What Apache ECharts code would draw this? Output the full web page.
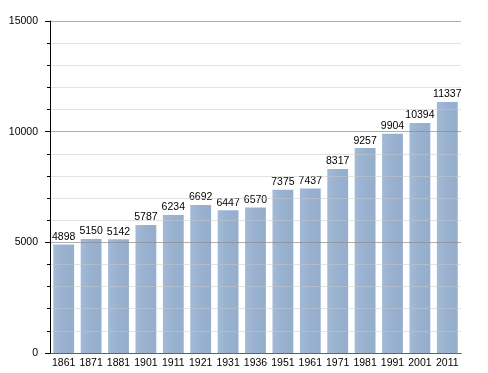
<!DOCTYPE html>
<html><head><meta charset="utf-8">
<script src="https://cdn.jsdelivr.net/npm/echarts@6/dist/echarts.min.js"></script>
<style>html,body{margin:0;padding:0;background:#fff}#c{width:488px;height:373px}</style>
</head><body><div id="c"></div>
<script>
const years = ['1861','1871','1881','1901','1911','1921','1931','1936','1951','1961','1971','1981','1991','2001','2011'];
const population = [4898,5150,5142,5787,6234,6692,6447,6570,7375,7437,8317,9257,9904,10394,11337];
const yTicks = [0,5000,10000,15000];

const chart = echarts.init(document.getElementById('c'), null, {renderer:'canvas'});
const font = '"Liberation Sans", Arial, sans-serif';
chart.setOption({
  animation:false,
  grid:{left:50,right:27,top:21,bottom:20},
  xAxis:{
    type:'category', data:years,
    axisLine:{lineStyle:{color:'#000',width:1}},
    axisTick:{show:false},
    axisLabel:{color:'#000',fontFamily:font,fontSize:10.5,margin:5,interval:0}
  },
  yAxis:{
    type:'value', min:yTicks[0], max:yTicks[yTicks.length-1], interval:5000,
    z:3,
    axisLine:{show:true,lineStyle:{color:'#000',width:1}},
    axisTick:{show:true,length:5,lineStyle:{color:'#000'}},
    minorTick:{show:true,splitNumber:5,length:3,lineStyle:{color:'#000'}},
    splitLine:{show:true,lineStyle:{color:'rgba(140,140,140,0.7)',width:1}},
    minorSplitLine:{show:true,lineStyle:{color:'rgba(200,200,200,0.5)',width:1}},
    axisLabel:{color:'#000',fontFamily:font,fontSize:10.5,margin:12,formatter:v=>String(v)}
  },
  series:[{
    type:'bar', data:population, barCategoryGap:'24%',
    itemStyle:{color:new echarts.graphic.LinearGradient(0,0,1,0,[
      {offset:0,color:'#a3bad6'},{offset:0.5,color:'#98b1cf'},{offset:1,color:'#95aecd'}])},
    label:{show:true,position:'top',distance:2,color:'#000',fontFamily:font,fontSize:10.5}
  }]
});
</script></body></html>
